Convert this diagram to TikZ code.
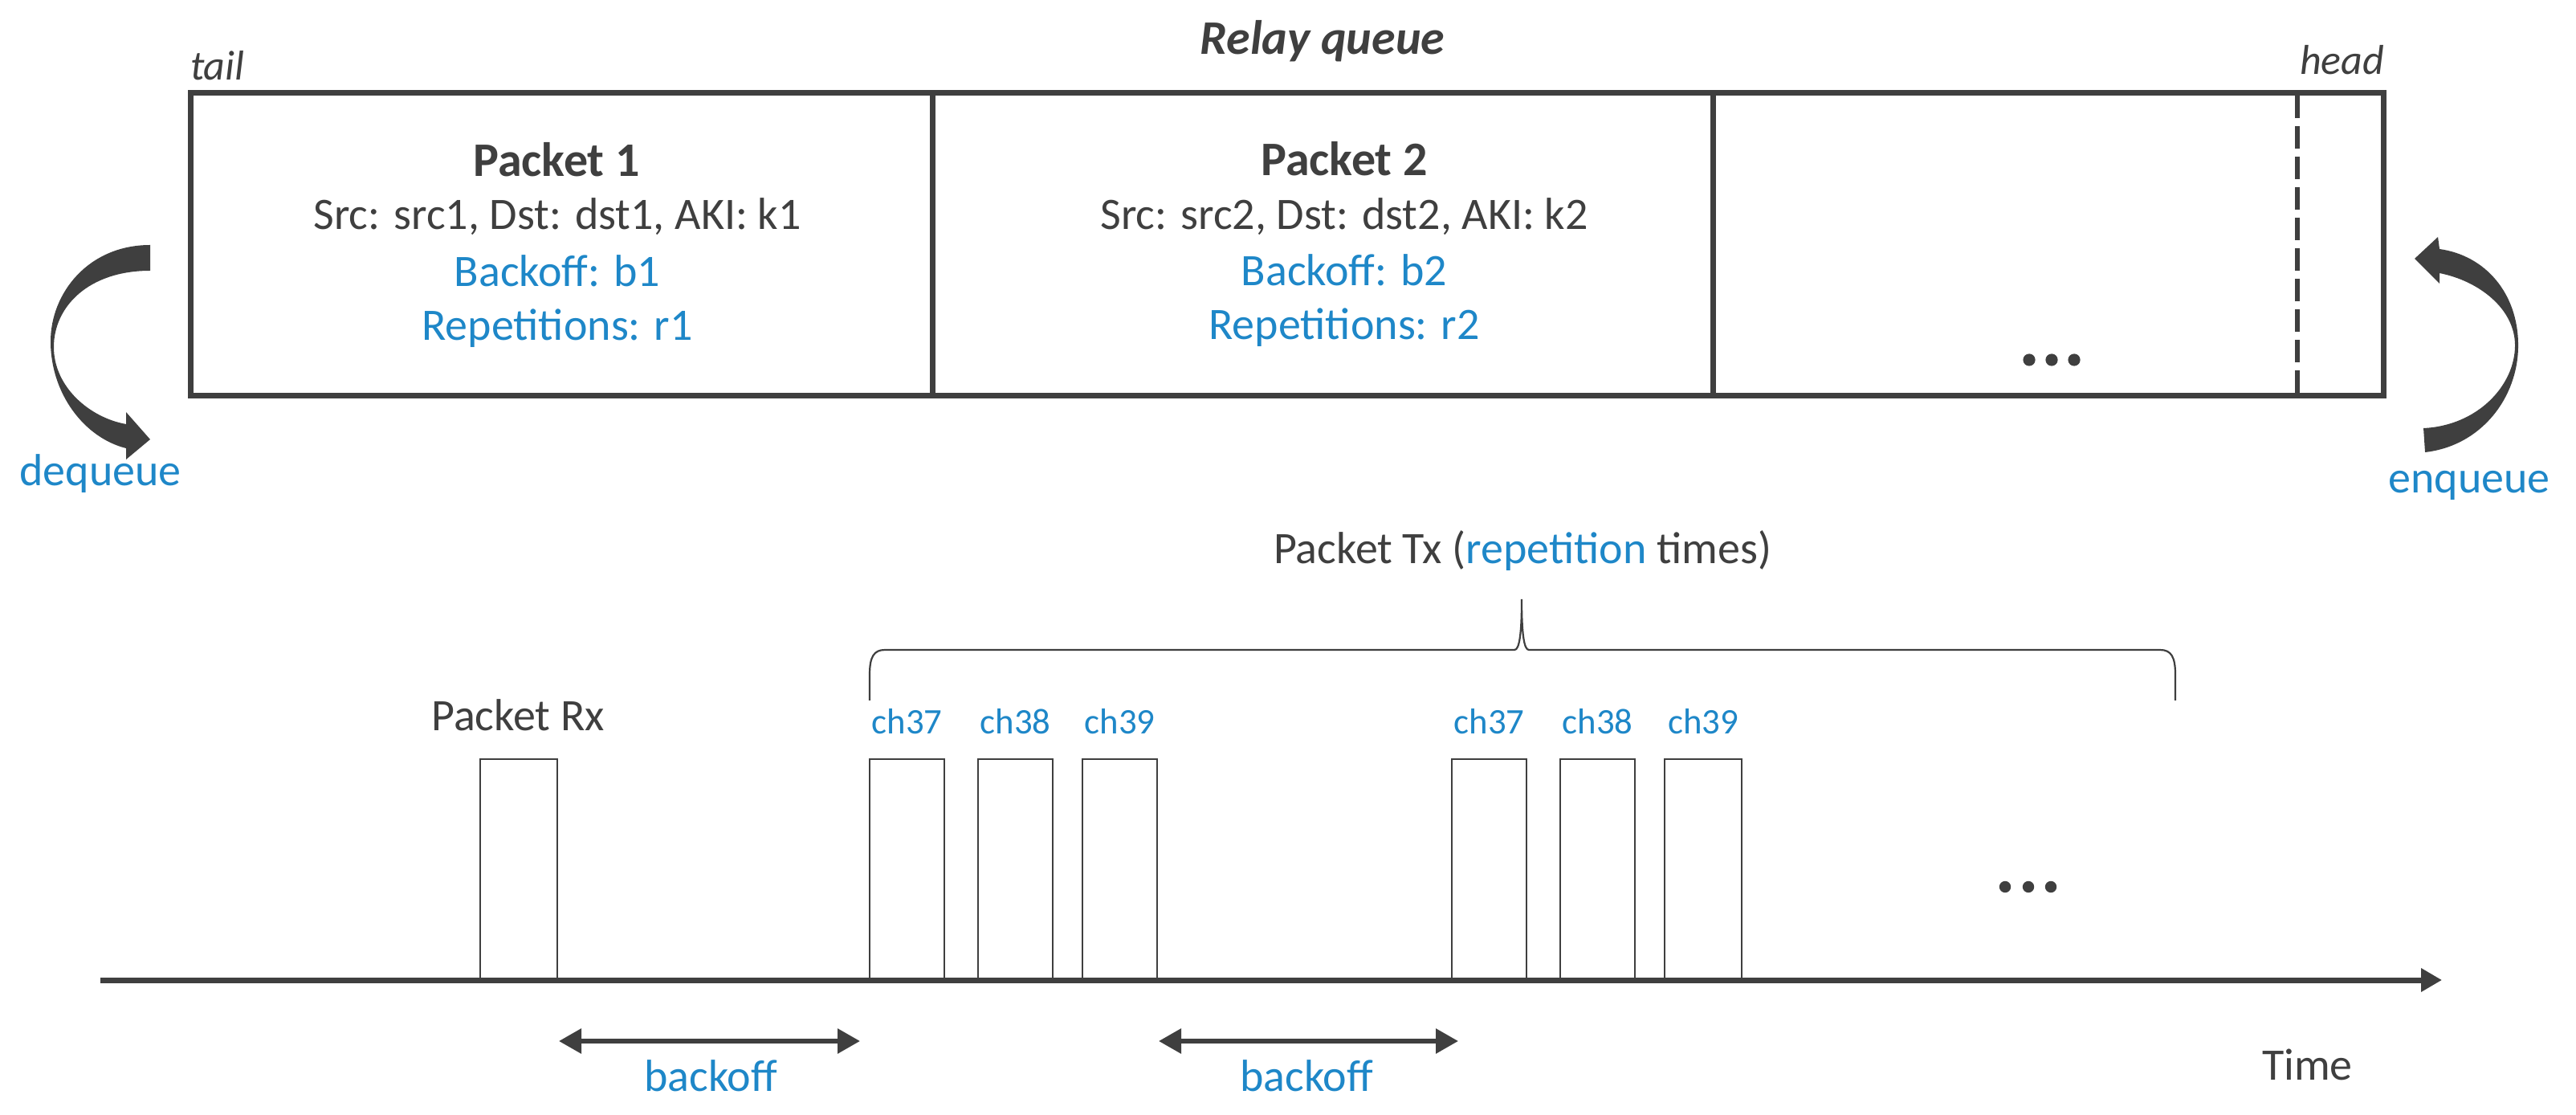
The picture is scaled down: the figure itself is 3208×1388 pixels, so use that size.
\documentclass[tikz,border=0pt]{standalone}
\usepackage{fontspec}
\setmainfont{Carlito}
\usetikzlibrary{arrows.meta}
\definecolor{tg}{HTML}{3F3F3F}
\definecolor{bl}{HTML}{1E87C8}
\begin{document}
\begin{tikzpicture}[x=0.25pt,y=-0.25pt,
  every node/.style={inner sep=0pt, outer sep=0pt, text=tg},
  qline/.style={draw=tg, line width=1.75pt},
  qdash/.style={draw=tg, line width=1.4pt, dash pattern=on 7pt off 2.5pt},
  pulse/.style={draw=tg, line width=0.6pt},
  bracestyle/.style={draw=tg, line width=0.55pt},
  lbl/.style={font=\fontsize{14}{17}\selectfont},
  bluelbl/.style={lbl, text=bl},
  titlelbl/.style={font=\fontsize{15}{18}\selectfont\bfseries},
  chlbl/.style={font=\fontsize{11.2}{13}\selectfont, text=bl},
  endlbl/.style={font=\fontsize{13}{15}\selectfont\itshape},
  barrow/.style={draw=tg, line width=1.5pt, {Triangle[length=7pt,width=7.5pt]}-{Triangle[length=7pt,width=7.5pt]}},
  axisarrow/.style={draw=tg, line width=1.75pt, -{Triangle[length=6.5pt,width=7pt]}},
  bigarrow/.style={fill=tg, draw=none}
]
\useasboundingbox (0,0) rectangle (3208,1388);

% ---------- relay queue ----------
\coordinate (qtl) at (237,116);
\coordinate (qbr) at (2968,493);
\draw[qline] (qtl) rectangle (qbr);
\coordinate (d1t) at (1161,116); \coordinate (d1b) at (1161,493);
\coordinate (d2t) at (2133,116); \coordinate (d2b) at (2133,493);
\coordinate (d3t) at (2861,119); \coordinate (d3b) at (2861,490);
\draw[qline] (d1t) -- (d1b);
\draw[qline] (d2t) -- (d2b);
\draw[qdash] (d3t) -- (d3b);

\node[anchor=base, font=\fontsize{15}{18}\selectfont\bfseries\itshape] (rq) at (1647,68) {Relay queue};
\node[anchor=base west, endlbl] (tail) at (237,100) {tail};
\node[anchor=base east, endlbl] (head) at (2969,93) {head};

\node[anchor=base, titlelbl] (p1t) at (693,220) {Packet 1};
\node[anchor=base, lbl] (p1s) at (694,286) {Src: src1, Dst: dst1, AKI: k1};
\node[anchor=base, bluelbl] (p1b) at (694,357) {Backoff: b1};
\node[anchor=base, bluelbl] (p1r) at (694,424) {Repetitions: r1};

\node[anchor=base, titlelbl] (p2t) at (1674,219) {Packet 2};
\node[anchor=base, lbl] (p2s) at (1674,286) {Src: src2, Dst: dst2, AKI: k2};
\node[anchor=base, bluelbl] (p2b) at (1674,356) {Backoff: b2};
\node[anchor=base, bluelbl] (p2r) at (1674,423) {Repetitions: r2};

\fill[tg] (2527,448) circle (1.9pt) (2555,448) circle (1.9pt) (2583,448) circle (1.9pt);

% dequeue arrow
\path[bigarrow] (187,305) .. controls (110,305) and (63,365) .. (63,425)
   .. controls (63,490) and (105,545) .. (157,558)
   -- (157,572) -- (187,547) -- (157,513) -- (157,528)
   .. controls (112,520) and (67,482) .. (67,432)
   .. controls (67,382) and (110,337) .. (187,337) -- cycle;
\node[anchor=base, bluelbl] (deq) at (125,605) {dequeue};

% enqueue arrow
\path[bigarrow] (3020,563) .. controls (3090,555) and (3136,495) .. (3136,430)
   .. controls (3136,365) and (3095,318) .. (3038,310)
   -- (3036,295) -- (3007,322) -- (3038,353) -- (3038,340)
   .. controls (3088,350) and (3132,385) .. (3132,430)
   .. controls (3132,480) and (3085,530) .. (3018,533) -- cycle;
\node[anchor=base, bluelbl] (enq) at (3075,614) {enqueue};

% ---------- timeline ----------
\coordinate (ax0) at (125,1220);
\coordinate (ax1) at (3041,1220);
\draw[axisarrow] (ax0) -- (ax1);
\node[anchor=base west, lbl] (time) at (2817,1344) {Time};

% pulses
\draw[pulse] (598,945) rectangle (694,1220);
\node[anchor=base, lbl] (rx) at (645,910) {Packet Rx};

\foreach \xa/\xb/\ch/\nm in {1083/1176/37/a1, 1218/1311/38/a2, 1348/1441/39/a3,
                              1808/1901/37/b1, 1943/2036/38/b2, 2073/2169/39/b3}{
  \draw[pulse] (\xa,945) rectangle (\xb,1220);
  \node[anchor=base, chlbl] (ch\nm) at ({(\xa+\xb)/2},914) {ch\ch};
}

\fill[tg] (2497,1104) circle (1.8pt) (2526,1104) circle (1.8pt) (2554,1104) circle (1.8pt);

% brace
\draw[bracestyle] (1083,872) -- (1083,840) .. controls (1083,818) and (1088,809) .. (1102,809)
   -- (1886,809) .. controls (1892,809) and (1895,790) .. (1895,746)
   .. controls (1895,790) and (1898,809) .. (1904,809)
   -- (2690,809) .. controls (2704,809) and (2709,818) .. (2709,840) -- (2709,872);
\node[anchor=base, lbl] (tx) at (1896,702) {Packet Tx (\textcolor{bl}{repetition} times)};

% backoff arrows
\coordinate (bo1a) at (696,1296); \coordinate (bo1b) at (1071,1296);
\coordinate (bo2a) at (1443,1296); \coordinate (bo2b) at (1816,1296);
\draw[barrow] (bo1a) -- (bo1b);
\draw[barrow] (bo2a) -- (bo2b);
\node[anchor=base, bluelbl] (bo1) at (885,1358) {backoff};
\node[anchor=base, bluelbl] (bo2) at (1627,1358) {backoff};
\end{tikzpicture}
\end{document}
